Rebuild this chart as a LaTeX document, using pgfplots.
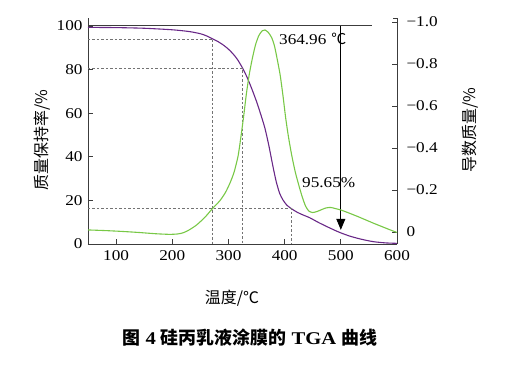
\documentclass[border=0pt]{standalone}
\usepackage{fontspec}
\setmainfont{Liberation Serif}[FakeStretch=1.15]
\newfontfamily\cjk{Noto Sans CJK SC}
\usepackage{pgfplots}
\pgfplotsset{compat=1.18}
\usetikzlibrary{arrows.meta}
\definecolor{tgapurple}{RGB}{105,40,135}
\definecolor{dtggreen}{RGB}{120,200,70}
\definecolor{axisgray}{RGB}{60,60,60}

\begin{document}
\begin{tikzpicture}[x=1bp,y=1bp]
\useasboundingbox (-88,-122) rectangle (432,244);
\begin{axis}[
  at={(0,0)}, anchor=south west,
  scale only axis, width=309bp, height=226bp,
  xmin=50, xmax=600, ymin=0, ymax=103.6,
  axis x line*=bottom, axis y line*=left,
  axis line style={-, line width=0.8pt, axisgray},
  tick style={line width=0.7pt, axisgray},
  tick align=inside, major tick length=5bp,
  xtick={100,200,...,600}, ytick={0,20,...,100},
  ticklabel style={font=\fontsize{15}{15}\selectfont},
  /pgf/number format/assume math mode=true,
  xticklabel style={yshift=-3bp},
  yticklabel style={xshift=-2bp},
  xlabel={\cjk 温度/℃},
  xlabel style={font=\fontsize{16}{16}\selectfont, at={(axis description cs:0.466,-0.239)}, anchor=center},
  ylabel={\cjk 质量保持率/\%},
  ylabel style={font=\fontsize{16}{16}\selectfont, at={(axis description cs:-0.149,0.46)}, anchor=center},
  clip=false,
]
\addplot[tgapurple, line width=1.1pt, smooth, tension=0.4] coordinates {
(50,99.3)(100,99.2)(150,98.9)(200,98.2)(230,97.4)(250,96.4)(262,95.3)(272,94.0)
(282,92.7)(292,91.0)(300,89.3)(308,87.2)(316,84.6)(325,80.7)(333,76.5)(341,71.5)
(350,65.3)(358,59.0)(365,53.0)(372,45.0)(379,35.8)(385,28.6)(391,23.3)(397,20.2)
(404,17.8)(412,16.2)(422,14.6)(432,13.4)(445,12.0)(460,9.9)(475,8.0)(490,6.2)
(500,5.1)(515,3.7)(530,2.6)(545,1.7)(560,1.0)(580,0.5)(600,0.3)
};
% reference dashed guide lines
\addplot[gray!90!black, line width=0.6pt, dash pattern=on 2.5pt off 2pt] coordinates {(50,94.0)(272,94.0)(272,0)};
\addplot[gray!90!black, line width=0.6pt, dash pattern=on 2.5pt off 2pt] coordinates {(50,80.7)(325,80.7)(325,0)};
\addplot[gray!90!black, line width=0.6pt, dash pattern=on 2.5pt off 2pt] coordinates {(50,16.2)(412,16.2)(412,0)};
% top line and arrow
\addplot[axisgray, line width=0.8pt] coordinates {(50,100)(556,100)};
\addplot[black, line width=0.8pt, -{Triangle[width=9bp,length=11bp]}] coordinates {(500,100)(500,6.5)};
\node[anchor=west, font=\fontsize{15}{15}\selectfont] at (axis cs:384,94) {364.96\hspace{5bp}{\cjk ℃}};
\node[anchor=west, font=\fontsize{15}{15}\selectfont] at (axis cs:425,28.3) {95.65\%};
\node[font=\fontsize{18}{18}\selectfont\bfseries] at (axis description cs:0.524,-0.416)
  {{\cjk 图}\hspace{5bp}4\hspace{5bp}{\cjk 硅丙乳液涂膜的}\hspace{5bp}TGA\hspace{5bp}{\cjk 曲线}};
\end{axis}
\begin{axis}[
  at={(0,0)}, anchor=south west,
  scale only axis, width=309bp, height=226bp,
  xmin=50, xmax=600, ymin=-1.019, ymax=0.057, y dir=reverse,
  axis y line*=right, hide x axis,
  axis line style={-, line width=0.8pt, axisgray},
  tick style={line width=0.7pt, axisgray},
  tick align=inside, major tick length=5bp,
  ytick={-1,-0.8,-0.6,-0.4,-0.2,0},
  yticklabels={−1.0,−0.8,−0.6,−0.4,−0.2,0},
  ticklabel style={font=\fontsize{15}{15}\selectfont},
  yticklabel style={xshift=6bp},
  ylabel={\cjk 导数质量/\%},
  ylabel style={font=\fontsize{16}{16}\selectfont, at={(axis description cs:1.236,0.504)}, anchor=center},
  clip=false,
]
\addplot[dtggreen, line width=1.1pt, smooth, tension=0.4] coordinates {
(50,-0.010)(80,-0.007)(110,-0.003)(140,0.002)(170,0.008)(195,0.011)(210,0.009)
(220,0.003)(230,-0.010)(243,-0.033)(258,-0.070)(272,-0.113)(285,-0.150)(295,-0.190)
(303,-0.235)(310,-0.285)(317,-0.360)(322,-0.450)(327,-0.550)(332,-0.660)(337,-0.750)
(342,-0.820)(348,-0.890)(354,-0.935)(360,-0.958)(365,-0.962)(371,-0.950)(377,-0.925)
(382,-0.885)(387,-0.820)(392,-0.748)(397,-0.650)(402,-0.540)(407,-0.450)(413,-0.360)
(419,-0.285)(425,-0.225)(431,-0.170)(437,-0.125)(443,-0.100)(450,-0.093)(458,-0.098)
(466,-0.107)(474,-0.115)(482,-0.117)(490,-0.112)(500,-0.105)(515,-0.090)(530,-0.074)
(545,-0.057)(560,-0.040)(575,-0.024)(590,-0.008)(600,0.002)
};
\addplot[axisgray, line width=0.8pt] coordinates {(593,-1.019)(600,-1.019)};
\end{axis}
\end{tikzpicture}
\end{document}
